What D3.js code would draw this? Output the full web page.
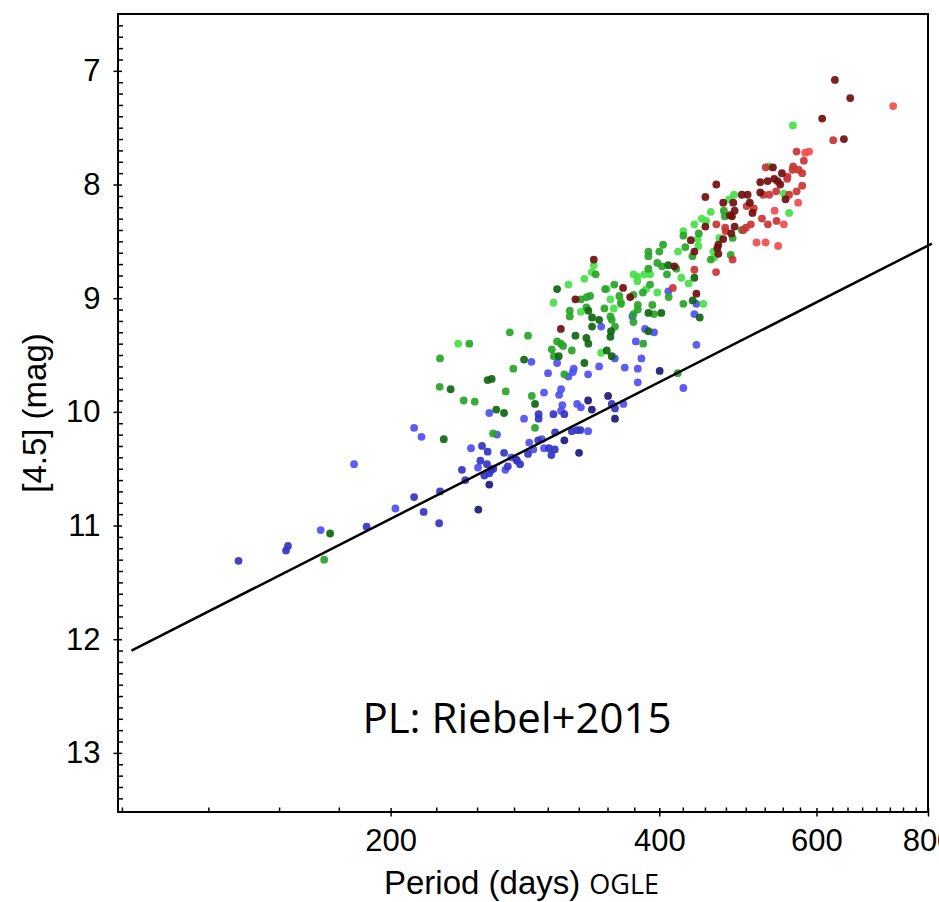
<!DOCTYPE html>
<html>
<head>
<meta charset="utf-8">
<script src="https://cdn.jsdelivr.net/npm/d3@7"></script>
<style>
  body { margin: 0; background: #fff; }
</style>
</head>
<body>
<div id="chart"></div>
<script>
// Data: [period (days), [4.5] (mag)]
var blueLight = [[212.5,10.14],[216.6,10.22],[182.0,10.46],[202.5,10.85],[167.0,11.04],[344.3,9.25],[287.6,9.56],[307.3,9.57],
  [342.5,9.60],[320.8,9.62],[320.0,9.65],[316.4,9.69],[332.9,9.67],[300.2,9.66],[297.1,9.83],[308.9,9.85],[310.5,9.80],
  [311.5,9.94],[310.5,9.99],[323.6,9.93],[326.7,9.96],[258.0,10.01],[282.2,10.06],[263.2,10.20],[332.9,10.17],[286.0,10.27],
  [295.4,10.24],[297.1,10.32],[246.1,10.32],[289.0,10.33],[273.1,10.40],[250.6,10.49],[268.9,10.51],[409.4,8.94],[440.2,9.05],
  [373.2,9.16],[437.9,9.14],[385.6,9.27],[394.6,9.30],[376.5,9.38],[440.2,9.41],[356.6,9.53],[382.0,9.53],[365.9,9.61],
  [378.4,9.62],[378.4,9.74],[425.6,9.79],[364.6,9.93]];
var blueMid = [[227.2,10.70],[212.5,10.75],[217.8,10.88],[226.7,10.98],[188.0,11.01],[153.5,11.18],[152.7,11.22],[135.1,11.31],
  [313.1,10.02],[293.0,10.02],[293.0,10.06],[304.4,10.02],[305.7,10.18],[319.2,10.17],[323.6,10.16],[326.4,10.16],[292.7,10.25],
  [301.0,10.32],[305.5,10.33],[302.8,10.38],[253.2,10.30],[256.9,10.35],[268.0,10.36],[285.1,10.37],[276.6,10.42],[279.3,10.46],
  [252.1,10.43],[256.5,10.46],[240.4,10.51],[259.4,10.51],[260.7,10.50],[270.6,10.48],[254.7,10.56],[258.0,10.54],[242.5,10.60],
  [277.1,10.43],[353.8,9.93],[356.8,9.97]];
var blueDark = [[325.2,10.36],[313.1,10.25],[350.5,9.86],[258.0,10.64],[250.8,10.86],[400.4,9.64],[356.8,10.06],[336.1,9.98],
  [332.9,9.90]];

var greenLight = [[337.8,8.71],[336.1,8.77],[316.4,8.88],[329.7,8.83],[349.3,8.92],[304.4,9.04],[352.6,9.01],[326.7,9.12],
  [355.7,9.09],[344.3,9.48],[238.1,9.40],[456.8,8.24],[446.3,8.30],[451.3,8.32],[437.9,8.35],[425.6,8.41],[441.7,8.48],
  [467.0,8.47],[442.4,8.54],[419.8,8.59],[459.9,8.59],[461.1,8.64],[384.9,8.79],[374.2,8.79],[378.0,8.81],[390.6,8.79],
  [378.0,8.85],[423.4,8.82],[431.5,8.87],[386.6,8.92],[398.0,8.95],[362.2,9.03],[448.2,9.05],[564.6,7.48],[530.7,7.84],
  [551.6,8.08],[559.1,8.25],[485.0,8.09],[478.9,8.13]];
var greenMid = [[339.5,8.79],[347.8,8.92],[356.2,8.88],[326.9,9.01],[331.7,8.99],[334.6,8.98],[317.5,9.11],[317.5,9.16],
  [331.4,9.08],[347.2,9.09],[352.6,9.16],[353.8,9.19],[272.0,9.30],[285.1,9.33],[307.3,9.38],[310.3,9.40],[312.1,9.42],
  [303.1,9.45],[319.2,9.46],[304.7,9.51],[245.0,9.40],[274.5,9.62],[313.1,9.67],[227.0,9.78],[269.2,9.82],[241.5,9.90],
  [248.5,9.91],[287.9,9.86],[290.3,10.14],[260.5,10.19],[227.2,9.53],[168.5,11.30],[472.5,8.23],[473.7,8.28],[425.6,8.45],
  [442.9,8.43],[403.9,8.53],[427.8,8.55],[388.9,8.59],[388.9,8.63],[400.0,8.59],[435.7,8.63],[456.8,8.66],[398.0,8.69],
  [402.9,8.72],[418.0,8.74],[388.9,8.74],[408.0,8.79],[390.6,8.88],[383.4,8.95],[360.8,8.98],[374.2,8.97],[362.4,9.05],
  [378.4,9.06],[378.4,9.10],[392.9,9.06],[409.8,8.99],[425.6,9.05],[374.2,9.14],[394.6,9.14],[374.2,9.21],[356.8,9.25],
  [383.7,9.40],[419.5,9.66],[483.3,8.47],[494.8,8.40],[480.9,8.62]];
var greenDark = [[307.3,8.92],[333.1,9.11],[336.3,9.17],[342.5,9.19],[336.3,9.25],[353.2,9.29],[352.6,9.34],[322.2,9.33],
  [331.4,9.35],[333.1,9.40],[349.3,9.46],[353.8,9.51],[308.6,9.51],[282.2,9.54],[329.7,9.57],[259.6,9.71],[256.9,9.72],
  [233.5,9.80],[290.3,9.93],[262.7,9.98],[268.0,10.01],[229.4,10.24],[171.1,11.07],[409.4,8.71],[437.9,8.82],[436.1,9.02],
  [388.9,9.13],[402.1,9.13],[444.0,9.17],[388.9,9.29]];

var redLight = [[731.3,7.31],[582.8,7.72],[588.7,7.71],[572.3,8.16],[538.6,8.23],[551.6,8.35],[514.0,8.51],[526.2,8.51],
  [543.5,8.54]];
var redMid = [[626.5,7.61],[570.0,7.71],[580.8,7.79],[565.1,7.84],[564.2,7.87],[572.9,7.87],[578.3,7.90],[556.8,7.93],
  [556.3,7.95],[526.2,7.85],[578.3,8.01],[570.0,8.06],[540.8,8.06],[523.0,8.09],[531.1,8.09],[559.1,8.09],[541.3,8.32],
  [521.3,8.30],[529.3,8.35],[510.4,8.21],[506.5,8.35],[500.2,8.38],[501.1,8.19],[463.4,8.35],[474.1,8.38],[474.6,8.41],
  [496.8,8.40],[483.3,8.66],[463.1,8.77],[437.9,8.75],[414.2,8.91]];
var redDark = [[629.2,7.08],[654.6,7.24],[608.9,7.42],[644.0,7.60],[548.8,7.90],[542.7,7.97],[546.4,8.00],[538.0,7.95],
  [536.2,7.85],[519.0,7.98],[528.9,7.97],[519.0,8.07],[554.0,8.13],[508.7,8.25],[502.4,8.09],[494.8,8.09],[505.2,8.16],
  [463.4,8.00],[450.5,8.11],[471.7,8.16],[480.0,8.27],[484.1,8.16],[485.8,8.23],[482.5,8.28],[450.5,8.37],[485.8,8.37],
  [481.6,8.43],[433.9,8.49],[471.7,8.48],[465.8,8.53],[464.6,8.56],[465.8,8.61],[437.9,8.59],[415.9,8.72],[364.3,8.91],
  [371.0,8.99],[440.2,8.96],[337.8,8.66],[322.2,9.01],[310.3,9.27]];

// PL relation (Riebel+2015), end points
var plLine = [[102.5, 12.10], [808, 8.52]];

var xTickVals = [200, 400, 600, 800];
var yTickVals = [7, 8, 9, 10, 11, 12, 13];

var groups = [
  {pts: blueLight, color: '#4f4ff0'},
  {pts: blueMid, color: '#3434c4'},
  {pts: blueDark, color: '#1a1a7a'},
  {pts: greenLight, color: '#48e048'},
  {pts: greenMid, color: '#28a428'},
  {pts: greenDark, color: '#0e660e'},
  {pts: redLight, color: '#f04c4c'},
  {pts: redMid, color: '#c83434'},
  {pts: redDark, color: '#700e0e'}
];

// Base
var margin = {top: 14, right: 11, bottom: 90, left: 118},
    width = 939 - margin.left - margin.right,
    height = 902 - margin.top - margin.bottom;

var svg = d3.select('#chart').append('svg')
    .attr('width', 939)
    .attr('height', 902);

var g = svg.append('g')
    .attr('transform', 'translate(' + margin.left + ',' + margin.top + ')');

var x = d3.scaleLog().domain([99, 800]).range([0, width]);
var y = d3.scaleLinear().domain([6.5, 13.52]).range([0, height]);

var xMinor = d3.range(100, 800, 25).filter(function(v) { return xTickVals.indexOf(v) < 0; });
var yMinor = d3.range(66, 135).filter(function(v) { return v % 10 !== 0; }).map(function(v) { return v / 10; });

// points
groups.forEach(function(grp) {
  g.append('g').selectAll('circle')
      .data(grp.pts)
      .enter()
      .append('circle')
      .attr('cx', function(d) { return x(d[0]); })
      .attr('cy', function(d) { return y(d[1]); })
      .attr('r', 3.9)
      .style('fill', grp.color)
      .style('fill-opacity', 0.92);
});

// PL line
g.append('path')
    .datum(plLine)
    .attr('d', d3.line().x(function(d) { return x(d[0]); }).y(function(d) { return y(d[1]); }))
    .style('fill', 'none')
    .style('stroke', '#000')
    .style('stroke-width', 2.5);

// axes
function styleAxis(sel) {
  sel.select('.domain').remove();
  sel.selectAll('line').style('stroke', '#000').style('stroke-width', 1.5);
  sel.selectAll('text').style('font-family', '"Liberation Sans", Arial, sans-serif')
      .style('font-size', '31px').style('fill', '#000');
}

var xb = g.append('g').attr('transform', 'translate(0,' + height + ')');
xb.append('g').call(d3.axisBottom(x).tickValues(xMinor).tickSize(-4.5).tickFormat('')).call(styleAxis);
xb.append('g').call(d3.axisBottom(x).tickValues(xTickVals).tickSize(-4).tickFormat('')).call(styleAxis);
xb.append('g').call(d3.axisBottom(x).tickValues(xTickVals).tickSize(4.5).tickPadding(12)
    .tickFormat(d3.format('d'))).call(styleAxis);

var yl = g.append('g');
yl.append('g').call(d3.axisLeft(y).tickValues(yMinor).tickSize(-5).tickFormat('')).call(styleAxis);
yl.append('g').call(d3.axisLeft(y).tickValues(yTickVals).tickSize(-4).tickFormat('')).call(styleAxis);
yl.append('g').call(d3.axisLeft(y).tickValues(yTickVals).tickSize(4.5).tickPadding(13)
    .tickFormat(d3.format('d'))).call(styleAxis);

// frame
g.append('rect')
    .attr('x', 0).attr('y', 0)
    .attr('width', width).attr('height', height)
    .style('fill', 'none')
    .style('stroke', '#000')
    .style('stroke-width', 2);

// labels
var xl = svg.append('text')
    .attr('x', 384)
    .attr('y', 894)
    .style('font-family', '"Liberation Sans", Arial, sans-serif')
    .style('font-size', '33px')
    .style('fill', '#000');
xl.append('tspan').text('Period (days)');
xl.append('tspan').attr('dx', 9)
    .style('font-family', '"Open Sans", sans-serif')
    .style('font-size', '27px')
    .text('OGLE');

svg.append('text')
    .attr('transform', 'translate(46,413) rotate(-90)')
    .attr('text-anchor', 'middle')
    .style('font-family', '"Liberation Sans", Arial, sans-serif')
    .style('font-size', '33px')
    .style('fill', '#000')
    .text('[4.5] (mag)');

svg.append('text')
    .attr('x', 517)
    .attr('y', 733)
    .attr('text-anchor', 'middle')
    .style('font-family', '"Open Sans", sans-serif')
    .style('font-size', '42px')
    .style('fill', '#000')
    .text('PL: Riebel+2015');
</script>
</body>
</html>
